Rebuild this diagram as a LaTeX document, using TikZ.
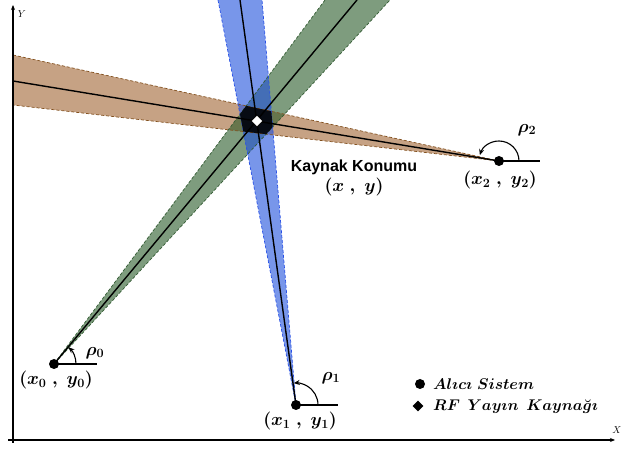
\RequirePackage{fix-cm}
\documentclass[tikz,border=0pt]{standalone}
\usepackage{fontspec}
\usepackage{amsmath,bm}
\newfontfamily\headfont{Liberation Sans}
\usetikzlibrary{shapes.geometric,arrows.meta}
\definecolor{brownf}{RGB}{160,100,50}
\definecolor{greenf}{RGB}{40,90,40}
\definecolor{bluef}{RGB}{30,80,220}
\definecolor{browne}{RGB}{130,80,30}
\definecolor{greene}{RGB}{50,90,50}
\definecolor{bluee}{RGB}{40,80,230}
\begin{document}
\begin{tikzpicture}[x=1pt,y=1pt,
  rx/.style={circle,fill=black,inner sep=0pt,minimum size=10pt},
  src/.style={diamond,draw=black,fill=white,line width=0.8pt,inner sep=0pt,minimum size=12pt},
  lbl/.style={font=\fontsize{18}{20}\selectfont\boldmath,inner sep=0pt},
  leg/.style={font=\fontsize{15.5}{18}\selectfont\boldmath,inner sep=0pt,anchor=west},
  cline/.style={line width=1.4pt,black},
  angline/.style={line width=1.1pt,black},
  angarc/.style={line width=1.1pt,black,-{Stealth[length=6pt,width=5pt]}},
  axis/.style={line width=1.1pt,black}]
\useasboundingbox (0,0) rectangle (622,450);
% coordinates
\coordinate (P0) at (54,86);
\coordinate (P1) at (296,45);
\coordinate (P2) at (499,289);
\coordinate (T) at (257,329);
\coordinate (G1) at (325,450);
\coordinate (G2) at (390,450);
\coordinate (GC) at (357,450);
\coordinate (B1) at (218,450);
\coordinate (B2) at (262,450);
\coordinate (BC) at (240,450);
\coordinate (R1) at (13,395);
\coordinate (R2) at (13,345);
\coordinate (RC) at (13,369);
% cones
\fill[brownf,opacity=0.6] (P2) -- (R1) -- (R2) -- cycle;
\fill[greenf,opacity=0.6] (P0) -- (G1) -- (G2) -- cycle;
\fill[bluef,opacity=0.6] (P1) -- (B1) -- (B2) -- cycle;
\draw[browne,dashed,dash pattern=on 3pt off 2pt,line width=0.7pt] (R1) -- (P2) -- (R2);
\draw[greene,dashed,dash pattern=on 3pt off 2pt,line width=0.7pt] (G1) -- (P0) -- (G2);
\draw[bluee,dashed,dash pattern=on 3pt off 2pt,line width=0.7pt] (B1) -- (P1) -- (B2);
% triple overlap
\begin{scope}
\clip (P2) -- (R1) -- (R2) -- cycle;
\clip (P0) -- (G1) -- (G2) -- cycle;
\fill[black,opacity=0.88] (P1) -- (B1) -- (B2) -- cycle;
\end{scope}
% center lines
\draw[cline] (P0) -- (GC);
\draw[cline] (P1) -- (BC);
\draw[cline] (P2) -- (RC);
% axes
\coordinate (Xs) at (8,10);
\coordinate (Xe) at (615,10);
\coordinate (Ys) at (13,7);
\coordinate (Ye) at (13,445);
\draw[axis,-{Stealth[length=5pt,width=4pt]}] (Xs) -- (Xe);
\draw[axis,-{Stealth[length=5pt,width=4pt]}] (Ys) -- (Ye);
\node[font=\fontsize{10}{11}\selectfont,inner sep=0pt] (ylab) at (22,436) {$Y$};
\node[font=\fontsize{10}{11}\selectfont,inner sep=0pt] (xlab) at (617,20) {$X$};
% angle lines and arcs
\coordinate (H0) at (97,86);
\coordinate (H1) at (338,45);
\coordinate (H2) at (540,289);
\draw[angline] (P0) -- (H0);
\draw[angline] (P1) -- (H1);
\draw[angline] (P2) -- (H2);
\draw[angarc] ([shift={(0:22)}]P0) arc[start angle=0,end angle=49,radius=22];
\draw[angarc] ([shift={(0:22)}]P1) arc[start angle=0,end angle=96,radius=22];
\draw[angarc] ([shift={(0:20)}]P2) arc[start angle=0,end angle=163,radius=20];
\node[lbl] (rho0) at (95,97) {$\rho_0$};
\node[lbl] (rho1) at (331,72) {$\rho_1$};
\node[lbl] (rho2) at (527,320) {$\rho_2$};
% receivers
\node[rx] (n0) at (P0) {};
\node[rx] (n1) at (P1) {};
\node[rx] (n2) at (P2) {};
\node[src] (s) at (T) {};
\node[lbl] (c0) at (56,70) {$(x_0\ ,\ y_0)$};
\node[lbl] (c1) at (300,29) {$(x_1\ ,\ y_1)$};
\node[lbl] (c2) at (500,270) {$(x_2\ ,\ y_2)$};
\node[font=\headfont\bfseries\fontsize{16}{18}\selectfont,inner sep=0pt] (kk) at (354,283) {Kaynak Konumu};
\node[lbl] (kxy) at (354,263) {$(x\ ,\ y)$};
% legend
\node[rx] (ld) at (420,66) {};
\node[diamond,fill=black,inner sep=0pt,minimum size=11pt] (ls) at (418,44) {};
\node[leg] (lt1) at (433,66) {$Al\imath c\imath\ Sistem$};
\node[leg] (lt2) at (433,43) {$RF\ \,Yay\imath n\ \,Kayna\breve{g}\imath$};
\end{tikzpicture}
\end{document}
